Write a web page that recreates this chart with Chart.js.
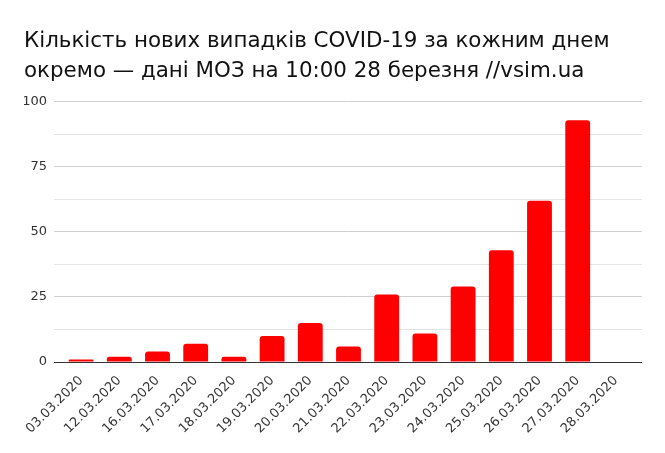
<!DOCTYPE html>
<html>
<head>
<meta charset="utf-8">
<script src="https://cdn.jsdelivr.net/npm/chart.js@4"></script>
<style>
  html, body { margin: 0; padding: 0; background: #fff; }
  #wrap { width: 665px; height: 453px; position: relative; }
</style>
</head>
<body>
<div id="wrap"><canvas id="covid_chart"></canvas></div>
<script>
// дані МОЗ — нові випадки за днями
const dates = ['03.03.2020', '12.03.2020', '16.03.2020', '17.03.2020', '18.03.2020',
  '19.03.2020', '20.03.2020', '21.03.2020', '22.03.2020', '23.03.2020',
  '24.03.2020', '25.03.2020', '26.03.2020', '27.03.2020', '28.03.2020'];
const newCases = [1, 2, 4, 7, 2, 10, 15, 6, 26, 11, 29, 43, 62, 93, 0];
const titleLines = ['Кількість нових випадків COVID-19 за кожним днем',
  'окремо — дані МОЗ на 10:00 28 березня //vsim.ua'];
const yMax = 100;
const yStep = 12.5;

function gridColor(c) {
  if (c.tick.value === 0) return '#333';
  return c.tick.value % 25 === 0 ? '#d0d0d0' : '#e4e4e4';
}

let ctx = document.getElementById('covid_chart').getContext('2d');

let chart = new Chart(ctx, {
  type: 'bar',
  data: {
    labels: dates,
    datasets: [{
      data: newCases,
      backgroundColor: '#ff0000',
      borderRadius: { topLeft: 3, topRight: 3 },
      borderSkipped: 'bottom',
      barPercentage: 0.65,
      categoryPercentage: 1.0
    }]
  },
  options: {
    responsive: true,
    maintainAspectRatio: false,
    animation: false,
    layout: { padding: { left: 24, right: 23, top: 26, bottom: 0 } },
    plugins: {
      legend: { display: false },
      tooltip: { enabled: false },
      title: {
        display: true,
        text: titleLines,
        align: 'start',
        color: '#111',
        font: { family: 'DejaVu Sans', size: 21.4, weight: 'normal', lineHeight: 1.4 },
        padding: { top: 0, bottom: 16 }
      }
    },
    scales: {
      x: {
        grid: { display: false },
        border: { display: true, color: '#333', width: 1 },
        ticks: {
          color: '#333',
          font: { family: 'DejaVu Sans', size: 13 },
          minRotation: 45,
          maxRotation: 45,
          autoSkip: false
        },
        afterFit: function (axis) { axis.height = 91; }
      },
      y: {
        min: 0,
        max: yMax,
        border: { display: false },
        grid: { color: gridColor, drawTicks: true, tickLength: 8 },
        ticks: {
          stepSize: yStep,
          color: '#333',
          padding: 7,
          font: { family: 'DejaVu Sans', size: 13 },
          callback: function (v) { return v % 25 === 0 ? v : ''; }
        },
        afterFit: function (axis) { axis.width = 38; }
      },
      y2: {
        position: 'right',
        min: 0,
        max: yMax,
        border: { display: false },
        grid: { color: gridColor, drawOnChartArea: false, drawTicks: true, tickLength: 7 },
        ticks: { stepSize: yStep, display: false },
        afterFit: function (axis) { axis.width = 7; }
      }
    }
  }
});
</script>
</body>
</html>
